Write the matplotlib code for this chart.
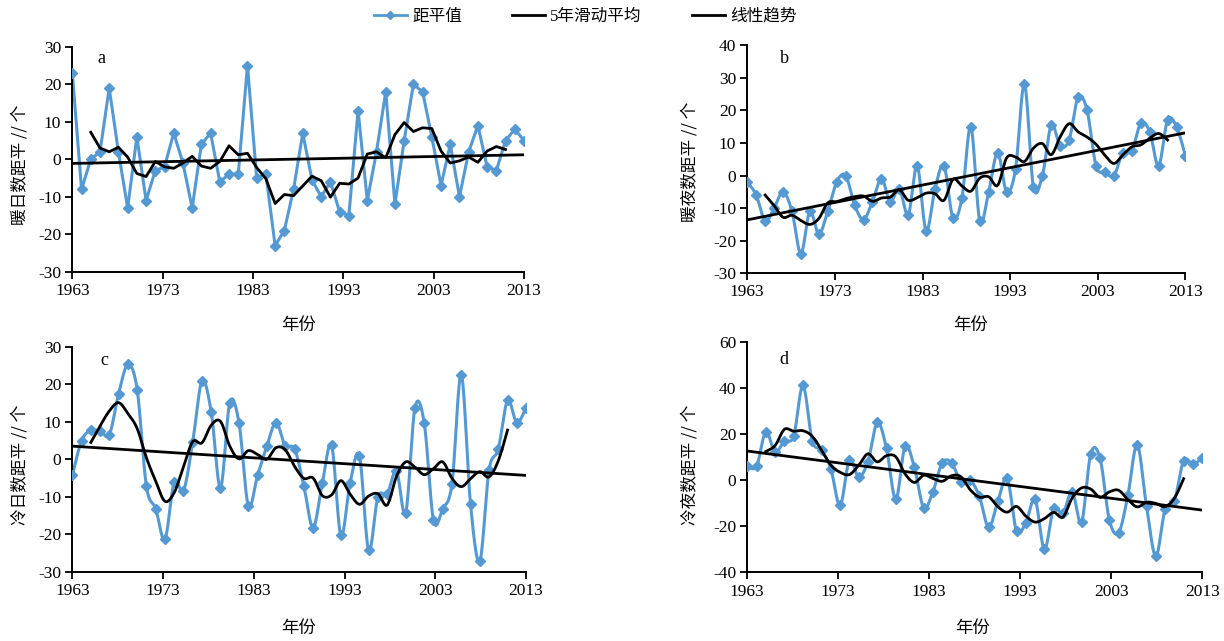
import numpy as np
import matplotlib
matplotlib.use("Agg")
import matplotlib.pyplot as plt
from matplotlib.lines import Line2D

plt.rcParams['font.family'] = ['Liberation Serif', 'Noto Sans CJK SC']
plt.rcParams['axes.unicode_minus'] = False

# anomaly values (50 points spread over the 1963-2013 axis)
warm_days = [23, -8, 0, 2, 19, 2, -13, 6, -11, -3, -2, 7, -1, -13, 4, 7, -6, -4, -4, 25,
             -5, -4, -23, -19, -8, 7, -5.5, -10, -6, -14, -15, 13, -11, 2, 18, -12, 5, 20, 18, 6,
             -7, 4, -10, 2, 9, -2, -3, 5, 8, 5]
warm_nights = [-2, -6, -14, -10, -5, -11, -24, -11, -18, -11, -2, 0, -9, -13.5, -8, -1, -8, -4, -12, 3,
               -17, -4, 3, -13, -7, 15, -14, -5, 7, -5, 2, 28, -3.5, 0, 15.5, 9, 11, 24, 20, 3,
               1, 0, 7, 7.5, 16, 13.5, 3, 17, 15, 6]
cold_days = [-4.3, 5, 7.7, 7.5, 6.6, 17.5, 25.3, 18.6, -7.2, -13.2, -21.3, -6, -8.4, 4.6, 20.9, 12.6,
             -7.6, 15.1, 9.7, -12.4, -4.3, 3.5, 9.8, 3.5, 2.8, -7.1, -18.3, -6.3, 3.7, -20.3, -6.3,
             0.9, -24.3, -10, -9.3, -3.1, -14.3, 13.7, 9.7, -16.3, -13.2, -6.5, 22.6, -12, -27.2,
             -2.9, 2.8, 15.7, 9.8, 13.7]
cold_nights = [6, 6, 21, 12, 17, 19, 41, 17, 13, 5, -11, 8.7, 1.4, 8, 25, 13.7, -8.4, 14.7, 5.5, -12,
               -5, 7.5, 7.5, -0.7, 0, -7, -20.5, -9, 0.7, -22, -18.5, -8.4, -30, -12.3, -14.4, -5,
               -18.3, 11.5, 9.4, -17.3, -22.8, -6.5, 15.4, -11.3, -33, -12.7, -9, 8.4, 7, 9.4]

# 5-year moving average (points 3..48)
ma_warm_days = [7.2, 3.0, 2.0, 3.2, 0.6, -3.8, -4.6, -0.6, -2.0, -2.4, -1.0, 0.8, -1.8, -2.4, -0.6,
                3.6, 1.2, 1.6, -2.2, -5.2, -11.8, -9.4, -9.7, -7.1, -4.5, -5.7, -10.1, -6.4, -6.6,
                -5.0, 1.4, 2.0, 0.4, 6.6, 9.8, 7.4, 8.4, 8.2, 2.2, -1.0, -0.4, 0.6, -0.8, 2.2, 3.4, 2.6]
ma_warm_nights = [-6.0, -9.2, -12.8, -12.2, -13.8, -15.0, -13.2, -8.4, -8.0, -7.1, -6.5, -6.3, -7.9,
                  -6.9, -6.6, -4.4, -7.6, -6.8, -5.4, -5.6, -7.6, -1.2, -3.2, -4.8, -0.8, -0.4, -3.0,
                  5.4, 5.7, 4.3, 8.4, 9.8, 6.4, 11.9, 15.9, 13.4, 11.8, 9.6, 6.2, 3.7, 6.3, 8.8, 9.4,
                  11.4, 12.9, 10.9]
ma_cold_days = [4.5, 8.9, 12.9, 15.1, 12.2, 8.2, 0.4, -5.8, -11.2, -8.9, -2.0, 4.7, 4.4, 9.1, 10.1,
                3.5, 0.1, 2.3, 1.3, 0.0, 3.1, 2.5, -1.9, -5.1, -5.0, -9.7, -9.5, -5.7, -9.3, -12.0,
                -9.8, -9.2, -12.2, -4.6, -0.7, -2.1, -4.1, -2.5, -0.7, -5.1, -7.3, -5.2, -3.3, -4.7,
                -0.4, 7.8]
ma_cold_nights = [12.4, 15.0, 22.0, 21.2, 21.4, 19.0, 13.0, 6.5, 3.4, 2.4, 6.4, 11.4, 7.9, 10.6, 10.1,
                  2.7, -1.0, 2.1, 0.7, -0.5, 1.9, 1.5, -4.1, -7.4, -7.2, -11.6, -13.9, -11.4, -15.6,
                  -18.2, -16.7, -14.0, -16.0, -7.7, -3.4, -3.9, -7.5, -5.1, -4.4, -8.5, -11.6, -9.6,
                  -10.1, -11.5, -7.9, 0.6]

# linear trend, start and end values
trend_warm_days = [-1.1, 1.2]
trend_warm_nights = [-13.6, 13.1]
trend_cold_days = [3.5, -4.3]
trend_cold_nights = [12.6, -13.0]

year_ticks = [1963, 1973, 1983, 1993, 2003, 2013]
ylabels = ['暖日数距平 // 个', '暖夜数距平 // 个', '冷日数距平 // 个', '冷夜数距平 // 个']
letters = ['a', 'b', 'c', 'd']

BLUE = '#5599D3'


def smooth(x, y, n=16):
    # Catmull-Rom style bezier, like the spreadsheet "smoothed line"
    x = np.asarray(x, float)
    y = np.asarray(y, float)
    px = np.concatenate([[x[0]], x, [x[-1]]])
    py = np.concatenate([[y[0]], y, [y[-1]]])
    t = np.linspace(0, 1, n, endpoint=False)
    xs, ys = [], []
    for i in range(1, len(px) - 2):
        x0, x1, x2, x3 = px[i - 1:i + 3]
        y0, y1, y2, y3 = py[i - 1:i + 3]
        cx1, cy1 = x1 + (x2 - x0) / 6, y1 + (y2 - y0) / 6
        cx2, cy2 = x2 - (x3 - x1) / 6, y2 - (y3 - y1) / 6
        b0, b1, b2, b3 = (1 - t) ** 3, 3 * (1 - t) ** 2 * t, 3 * (1 - t) * t ** 2, t ** 3
        xs.append(b0 * x1 + b1 * cx1 + b2 * cx2 + b3 * x2)
        ys.append(b0 * y1 + b1 * cy1 + b2 * cy2 + b3 * y2)
    xs.append([x[-1]])
    ys.append([y[-1]])
    return np.concatenate(xs), np.concatenate(ys)


fig = plt.figure(figsize=(12.24, 6.41), dpi=100)

panels = [
    ([0.0591, 0.576, 0.369, 0.351], warm_days, ma_warm_days, trend_warm_days, (-30, 30), 10, False, (0.055, 0.93)),
    ([0.6105, 0.5736, 0.358, 0.356], warm_nights, ma_warm_nights, trend_warm_nights, (-30, 40), 10, True, (0.075, 0.92)),
    ([0.0591, 0.108, 0.3707, 0.351], cold_days, ma_cold_days, trend_cold_days, (-30, 30), 10, True, (0.061, 0.92)),
    ([0.6105, 0.107, 0.3717, 0.36], cold_nights, ma_cold_nights, trend_cold_nights, (-40, 60), 20, True, (0.07, 0.905)),
]

for k, (rect, vals, ma, trend, ylim, ystep, smoothed, lpos) in enumerate(panels):
    ax = fig.add_axes(rect)
    x = np.linspace(year_ticks[0], year_ticks[-1], len(vals))
    xm = x[2:2 + len(ma)]
    if smoothed:
        sx, sy = smooth(x, vals)
        mx, my = smooth(xm, ma)
    else:
        sx, sy = x, vals
        mx, my = xm, ma
    ax.plot(sx, sy, color=BLUE, lw=2.2, zorder=2)
    ax.plot(x, vals, ls='none', marker='D', ms=5.5, color=BLUE, zorder=3)
    ax.plot(mx, my, color='black', lw=2.0, zorder=4)
    ax.plot([x[0], x[-1]], trend, color='black', lw=2.0, zorder=4)

    ax.set_xlim(year_ticks[0], year_ticks[-1])
    ax.set_ylim(*ylim)
    ax.set_xticks(year_ticks)
    ax.set_yticks(np.arange(ylim[0], ylim[1] + 1, ystep))
    for s in ['top', 'right']:
        ax.spines[s].set_visible(False)
    for s in ['left', 'bottom']:
        ax.spines[s].set_linewidth(1.4)
    ax.tick_params(direction='out', length=5, width=1.3, labelsize=12.5, pad=3)
    ax.text(lpos[0], lpos[1], letters[k], transform=ax.transAxes, fontsize=13)

# y labels and x labels
ylab_pos = [(20, 165), (690, 162), (20, 465), (690, 465)]
xlab_pos = [(298, 325), (970, 325), (298, 628), (973, 628)]
for k in range(4):
    fig.text(ylab_pos[k][0] / 1224, 1 - ylab_pos[k][1] / 641, ylabels[k], rotation=90,
             ha='center', va='center', fontsize=12, family=['Noto Sans CJK SC'])
    fig.text(xlab_pos[k][0] / 1224, 1 - xlab_pos[k][1] / 641, '年份',
             ha='center', va='center', fontsize=12.5, family=['Noto Sans CJK SC'])

handles = [Line2D([], [], color=BLUE, lw=2, marker='D', ms=4),
           Line2D([], [], color='black', lw=2),
           Line2D([], [], color='black', lw=2)]
fig.legend(handles, ['距平值', '5年滑动平均', '线性趋势'], loc='upper center',
           bbox_to_anchor=(0.478, 1.01), ncol=3, frameon=False, fontsize=12,
           handlelength=2.0, columnspacing=3.0, handletextpad=0.3)

fig.savefig('out.png', dpi=100)
